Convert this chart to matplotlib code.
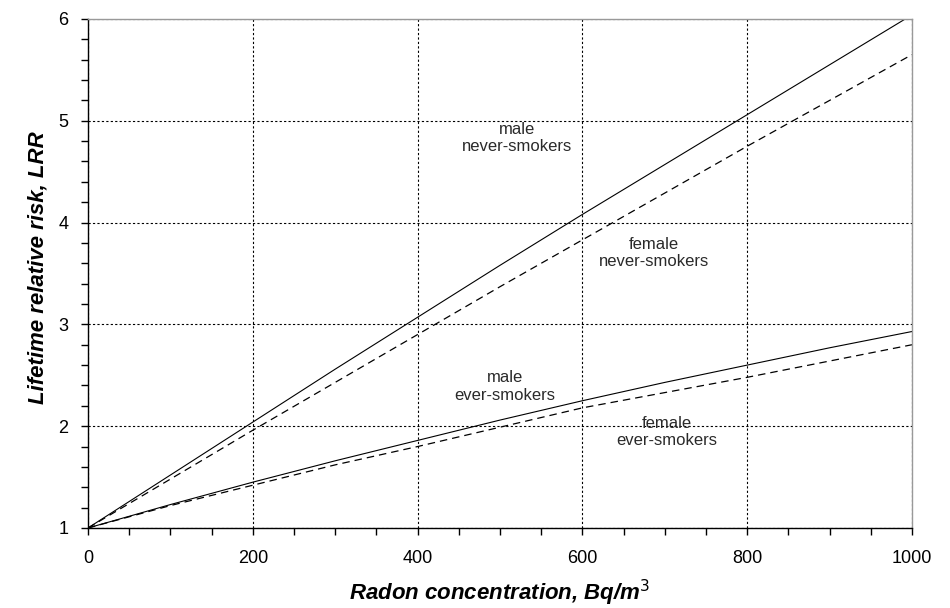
import matplotlib
matplotlib.use("Agg")
import matplotlib.pyplot as plt
from matplotlib.ticker import MultipleLocator

plt.rcParams['font.family'] = ['Liberation Sans', 'DejaVu Sans']

radon = [0, 100, 200, 300, 400, 500, 600, 700, 800, 900, 1000]
male_never = [1.0, 1.52, 2.04, 2.56, 3.07, 3.58, 4.08, 4.57, 5.06, 5.55, 6.04]
female_never = [1.0, 1.48, 1.96, 2.43, 2.90, 3.37, 3.83, 4.29, 4.75, 5.20, 5.65]
male_ever = [1.0, 1.23, 1.45, 1.66, 1.86, 2.06, 2.25, 2.43, 2.60, 2.77, 2.93]
female_ever = [1.0, 1.22, 1.42, 1.62, 1.80, 1.99, 2.18, 2.33, 2.48, 2.64, 2.80]

labels = ["male\nnever-smokers", "female\nnever-smokers", "male\never-smokers", "female\never-smokers"]
label_x = [521, 687, 506, 702]
label_y = [4.83, 3.70, 2.39, 1.94]

fig = plt.figure(figsize=(9.5, 6.08), dpi=100)
ax = fig.add_axes([0.0926, 0.1316, 0.8674, 0.8372])

ax.set_xlim(0, 1000)
ax.set_ylim(1, 6)
ax.xaxis.set_major_locator(MultipleLocator(200))
ax.xaxis.set_minor_locator(MultipleLocator(50))
ax.yaxis.set_major_locator(MultipleLocator(1))
ax.yaxis.set_minor_locator(MultipleLocator(0.2))

ax.grid(True, which='major', color='black', linestyle=(0, (2, 2)), linewidth=0.8)

ax.plot(radon, male_never, color='black', lw=0.8)
ax.plot(radon, female_never, color='black', lw=0.9, linestyle=(0, (6, 4)))
ax.plot(radon, male_ever, color='black', lw=0.8)
ax.plot(radon, female_ever, color='black', lw=0.9, linestyle=(0, (6, 4)))

for t, x, y in zip(labels, label_x, label_y):
    ax.text(x, y, t, ha='center', va='center', fontsize=12, color='#2a2a2a', linespacing=1.2)

for s in ['top', 'right']:
    ax.spines[s].set_color('#999999')
    ax.spines[s].set_linewidth(1.0)
for s in ['left', 'bottom']:
    ax.spines[s].set_color('black')
    ax.spines[s].set_linewidth(1.0)

ax.tick_params(which='both', direction='out', length=5, width=1, colors='black', labelsize=13)
ax.tick_params(axis='x', pad=11)
ax.tick_params(axis='y', pad=9)

ax.set_xlabel("Radon concentration, Bq/m$^3$", fontsize=16, fontweight='bold', fontstyle='italic')
ax.set_ylabel("Lifetime relative risk, LRR", fontsize=16, fontweight='bold', fontstyle='italic')
ax.xaxis.label.set_va('center')
ax.xaxis.set_label_coords(0.5, -0.128)
ax.yaxis.label.set_va('center')
ax.yaxis.set_label_coords(-0.0607, 0.512)

fig.savefig("out.png", dpi=100)
